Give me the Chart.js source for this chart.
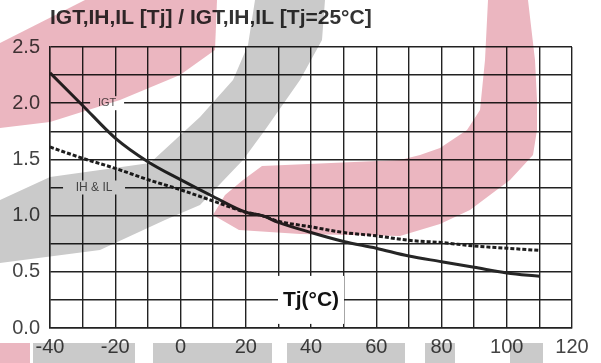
<!DOCTYPE html>
<html>
<head>
<meta charset="utf-8">
<script src="https://cdn.jsdelivr.net/npm/chart.js@4.4.1/dist/chart.umd.min.js"></script>
<style>
  body { margin: 0; background: #fff; }
  #wrap { width: 601px; height: 363px; }
</style>
</head>
<body>
<div id="wrap"><canvas id="tjChart"></canvas></div>
<script>
// Normalised trigger / holding / latching current vs junction temperature
const tempC = [-40, -30, -20, -10, 0, 10, 20, 25, 30, 40, 50, 60, 70, 80, 90, 100, 110];
const igt   = [2.27, 1.98, 1.69, 1.48, 1.32, 1.17, 1.03, 1.0, 0.94, 0.85, 0.77, 0.71, 0.64, 0.59, 0.54, 0.49, 0.46];
const ihIl  = [1.61, 1.51, 1.42, 1.32, 1.23, 1.13, 1.03, 1.0, 0.95, 0.90, 0.85, 0.82, 0.78, 0.76, 0.73, 0.71, 0.69];
const xLabelEvery = 20;   // numbered x ticks
const yLabelEvery = 0.5;  // numbered y ticks

const gridColor = '#222';
const fontFamily = 'Liberation Sans, Arial, sans-serif';
const tickFont = { family: fontFamily, size: 20 };

const toPoints = ys => tempC.map((t, i) => ({ x: t, y: ys[i] }));

// in-plot labels that sit on a gridline with a white box behind them
const curveLabels = [
    { text: 'IGT', x: -22.5, y: 2.0, w: 34, h: 14, bold: false, size: 11, color: '#555' },
    { text: 'IH & IL', x: -26.5, y: 1.25, w: 62, h: 14, bold: false, size: 12, color: '#555' },
    { text: 'Tj(°C)', x: 40, y: 0.25, w: 66, h: 48, bold: true, size: 21, color: '#111' }
];

const labelPlugin = {
    id: 'labels',
    afterDatasetsDraw(chart) {
        const { ctx, scales: { x, y } } = chart;
        ctx.save();
        curveLabels.forEach(l => {
            const px = x.getPixelForValue(l.x), py = y.getPixelForValue(l.y);
            ctx.fillStyle = '#fff';
            ctx.fillRect(px - l.w / 2, py - l.h / 2, l.w, l.h);
            ctx.fillStyle = l.color;
            ctx.font = (l.bold ? 'bold ' : '') + l.size + 'px ' + fontFamily;
            ctx.textAlign = 'center';
            ctx.textBaseline = 'middle';
            ctx.fillText(l.text, px, py);
        });
        // title, left aligned with the plot
        ctx.fillStyle = '#333';
        ctx.font = 'bold 21px ' + fontFamily;
        ctx.textAlign = 'left';
        ctx.textBaseline = 'middle';
        ctx.fillText('IGT,IH,IL [Tj] / IGT,IH,IL [Tj=25°C]', chart.chartArea.left, 18);
        ctx.restore();
    }
};

// faint watermark of the source picture, multiplied over everything
const watermarkPlugin = {
    id: 'watermark',
    afterDraw(chart) {
        const ctx = chart.ctx;
        const poly = (pts, color) => {
            ctx.beginPath();
            pts.forEach((p, i) => i ? ctx.lineTo(p[0], p[1]) : ctx.moveTo(p[0], p[1]));
            ctx.closePath();
            ctx.fillStyle = color;
            ctx.fill();
        };
        ctx.save();
        ctx.globalCompositeOperation = 'multiply';
        const pink = 'rgb(235,182,192)', grey = 'rgb(202,202,202)';
        poly([[0, 43], [85, 0], [217, 0], [215, 50], [180, 75], [120, 100], [50, 122], [0, 128]], pink);
        poly([[255, 0], [325, 0], [322, 40], [300, 80], [265, 130], [243, 160], [200, 205], [165, 220], [100, 250],
              [0, 263], [0, 200], [50, 177], [150, 163], [200, 117], [233, 80], [248, 45]], grey);
        poly([[488, 0], [528, 0], [535, 60], [537, 100], [537, 130], [533, 155], [510, 180], [470, 210], [440, 224],
              [400, 236], [300, 234], [239, 230], [213, 215], [225, 195], [243, 180], [262, 166], [400, 160],
              [420, 155], [440, 148], [467, 130], [480, 110], [485, 60]], pink);
        [[33, 135], [153, 272], [287, 405], [425, 455], [510, 543]].forEach(r => {
            ctx.fillStyle = grey;
            ctx.fillRect(r[0], 343, r[1] - r[0], 20);
        });
        ctx.fillStyle = pink;
        ctx.fillRect(0, 343, 30, 20);
        ctx.restore();
    }
};

new Chart(document.getElementById('tjChart'), {
    type: 'line',
    data: {
        datasets: [{
            label: 'IGT',
            data: toPoints(igt),
            borderColor: '#262626',
            borderWidth: 3,
            pointRadius: 0,
            cubicInterpolationMode: 'monotone'
        }, {
            label: 'IH & IL',
            data: toPoints(ihIl),
            borderColor: '#1e1e1e',
            borderWidth: 3,
            borderDash: [4, 2],
            pointRadius: 0,
            cubicInterpolationMode: 'monotone'
        }]
    },
    options: {
        responsive: true,
        maintainAspectRatio: false,
        animation: false,
        layout: { padding: { top: 47, right: 29, left: 0, bottom: 0 } },
        plugins: {
            legend: { display: false },
            tooltip: { enabled: false }
        },
        scales: {
            x: {
                type: 'linear',
                min: -40,
                max: 120,
                afterFit: s => { s.height = 35; },
                ticks: {
                    stepSize: 10,
                    autoSkip: false,
                    maxRotation: 0,
                    padding: 7,
                    color: '#444',
                    font: tickFont,
                    callback: v => (v % xLabelEvery === 0 ? v : '')
                },
                grid: { color: gridColor, lineWidth: 1.4, drawTicks: false },
                border: { color: gridColor, width: 1.4 }
            },
            y: {
                min: 0,
                max: 2.5,
                afterFit: s => { s.width = 50; },
                ticks: {
                    stepSize: 0.25,
                    autoSkip: false,
                    padding: 10,
                    color: '#444',
                    font: tickFont,
                    callback: v => {
                        const k = v / yLabelEvery;
                        return Math.abs(k - Math.round(k)) < 1e-6 ? v.toFixed(1) : '';
                    }
                },
                grid: { color: gridColor, lineWidth: 1.4, drawTicks: false },
                border: { color: gridColor, width: 1.4 }
            }
        }
    },
    plugins: [labelPlugin, watermarkPlugin]
});
</script>
</body>
</html>
